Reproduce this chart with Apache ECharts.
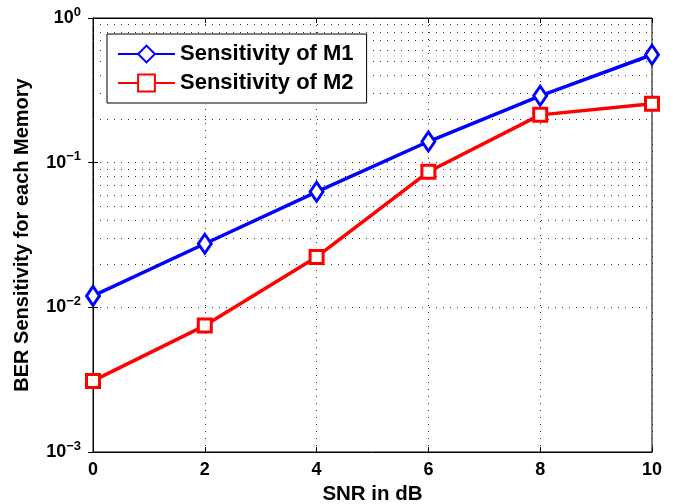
<!DOCTYPE html>
<html>
<head>
<meta charset="utf-8">
<script src="https://cdn.jsdelivr.net/npm/echarts@6/dist/echarts.min.js"></script>
<style>html,body{margin:0;padding:0;background:#fff;}#c{width:678px;height:504px;}</style>
</head>
<body>
<div id="c"></div>
<script>
var snr = [0, 2, 4, 6, 8, 10];
var m1 = [0.0120, 0.0275, 0.0629, 0.140, 0.290, 0.557];
var m2 = [0.0031, 0.00748, 0.0223, 0.0865, 0.214, 0.255];
var seriesNames = ['Sensitivity of M1', 'Sensitivity of M2'];
var minorGrid = [0.002,0.003,0.004,0.005,0.006,0.007,0.008,0.009,
                 0.02,0.03,0.04,0.05,0.06,0.07,0.08,0.09,
                 0.2,0.3,0.4,0.5,0.6,0.7,0.8,0.9];

var FONT = '"Liberation Sans", Arial, sans-serif';
var chart = echarts.init(document.getElementById('c'), null, {renderer: 'canvas'});
var dotStyle = {color: '#333', width: 1, type: [1, 6]};

function pairs(ys) { return snr.map(function (x, i) { return [x, ys[i]]; }); }

chart.setOption({
  animation: false,
  backgroundColor: '#fff',
  grid: {left: 93, right: 26, top: 18, bottom: 52, show: true, borderColor: '#000', borderWidth: 1,
         containLabel: false, outerBoundsMode: 'none'},
  legend: {
    left: 107, top: 34,
    orient: 'vertical',
    backgroundColor: '#fff',
    borderColor: '#000', borderWidth: 1,
    padding: [9, 13, 9, 10],
    itemWidth: 57, itemHeight: 21, itemGap: 7,
    textStyle: {fontFamily: FONT, fontWeight: 'bold', fontSize: 22, color: '#000'},
    data: seriesNames
  },
  xAxis: [{
    type: 'value', min: 0, max: 10, interval: 2,
    name: 'SNR in dB', nameLocation: 'middle', nameGap: 32,
    nameTextStyle: {fontFamily: FONT, fontWeight: 'bold', fontSize: 20.5, color: '#000'},
    axisLine: {show: true, lineStyle: {color: '#000'}},
    axisTick: {show: true, inside: true, length: 5, lineStyle: {color: '#000'}},
    axisLabel: {fontFamily: FONT, fontWeight: 'bold', fontSize: 18, color: '#000', margin: 9},
    splitLine: {show: true, lineStyle: dotStyle}
  }, {
    type: 'value', min: 0, max: 10, interval: 2, position: 'top',
    axisLine: {show: true, lineStyle: {color: '#000'}},
    axisTick: {show: true, inside: true, length: 5, lineStyle: {color: '#000'}},
    axisLabel: {show: false}, splitLine: {show: false}
  }],
  yAxis: [{
    type: 'log', logBase: 10, min: 0.001, max: 1,
    name: 'BER Sensitivity for each Memory', nameLocation: 'middle', nameGap: 61,
    nameTextStyle: {fontFamily: FONT, fontWeight: 'bold', fontSize: 20, color: '#000'},
    axisLine: {show: true, lineStyle: {color: '#000'}},
    axisTick: {show: true, inside: true, length: 5, lineStyle: {color: '#000'}},
    axisLabel: {
      margin: 12,
      formatter: function (v) {
        var e = Math.round(Math.log10(v));
        var s = e < 0 ? '\u2212' + (-e) : String(e);
        return '{b|10}{s|' + s + '}';
      },
      rich: {
        b: {fontFamily: FONT, fontWeight: 'bold', fontSize: 18, color: '#000'},
        s: {fontFamily: FONT, fontWeight: 'bold', fontSize: 13, color: '#000', padding: [0, 0, 12, 0]}
      }
    },
    splitLine: {show: true, lineStyle: dotStyle}
  }, {
    type: 'log', logBase: 10, min: 0.001, max: 1, position: 'right',
    axisLine: {show: true, lineStyle: {color: '#000'}},
    axisTick: {show: true, inside: true, length: 5, lineStyle: {color: '#000'}},
    axisLabel: {show: false}, splitLine: {show: false}
  }],
  series: [{
    name: seriesNames[0], type: 'line', data: pairs(m1),
    symbol: 'diamond', symbolSize: [13, 19],
    lineStyle: {color: '#0000ff', width: 3.5},
    itemStyle: {color: '#ffffff', borderColor: '#0000ff', borderWidth: 3},
    z: 3,
    markLine: {
      silent: true, symbol: 'none', label: {show: false},
      lineStyle: dotStyle, z: 1,
      data: minorGrid.map(function (v) { return {yAxis: v}; })
    }
  }, {
    name: seriesNames[1], type: 'line', data: pairs(m2),
    symbol: 'rect', symbolSize: 13,
    lineStyle: {color: '#ff0000', width: 3.5},
    itemStyle: {color: '#ffffff', borderColor: '#ff0000', borderWidth: 3},
    z: 3
  }]
});
</script>
</body>
</html>
